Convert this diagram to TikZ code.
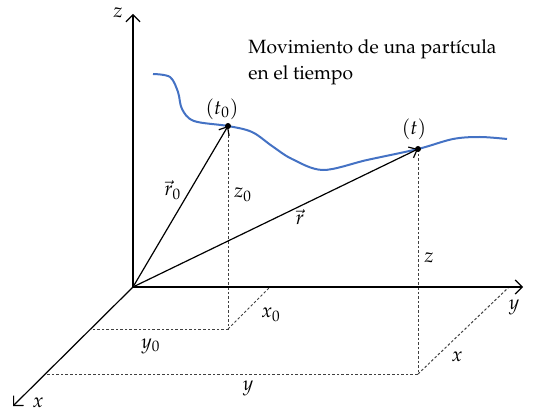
\documentclass[tikz,border=0pt]{standalone}
\usepackage[T1]{fontenc}
\usepackage{mathpazo}
\usetikzlibrary{arrows.meta}
\definecolor{curveblue}{RGB}{68,114,196}
\tikzset{
  axis/.style={line width=0.6pt,-{Straight Barb[length=3.5pt,width=7pt,line width=0.6pt]}},
  vecline/.style={line width=0.6pt,-{Straight Barb[length=3.5pt,width=6pt,line width=0.6pt]}},
  guide/.style={line width=0.5pt,black!75,dash pattern=on 1.3pt off 1pt},
  lbl/.style={inner sep=0pt,font=\fontsize{10}{12}\selectfont},
  pt/.style={circle,fill=black,inner sep=0pt,minimum size=3pt}
}
\begin{document}
\begin{tikzpicture}[x=0.5pt,y=-0.5pt]
\useasboundingbox (0,0) rectangle (534,411);
% key points
\coordinate (O) at (133,287);
\coordinate (Zt) at (133,14);
\coordinate (Yt) at (523,287);
\coordinate (Xt) at (13,406);
\coordinate (P0) at (228,126);
\coordinate (P) at (418,149);
\coordinate (A0) at (228,329);
\coordinate (B0) at (91,329);
\coordinate (C0) at (270,287);
\coordinate (A) at (418,374);
\coordinate (B) at (46,374);
\coordinate (C) at (509,287);
% guides
\draw[guide] (P0) -- (A0) -- (B0);
\draw[guide] (A0) -- (C0);
\draw[guide] (P) -- (A) -- (B);
\draw[guide] (A) -- (C);
% axes
\draw[axis] (O) -- (Zt);
\draw[axis] (O) -- (Yt);
\draw[axis] (O) -- (Xt);
% trajectory
\draw[curveblue,line width=1pt] plot[smooth,tension=0.55] coordinates {
 (153,74) (170,77) (178,92) (182,109) (194,121) (228,126) (252,132) (272,146) (292,159) (323,170) (367,160) (418,149) (453,139) (480,137) (507,139)};
% vectors
\draw[vecline] (O) -- (P0);
\draw[vecline] (O) -- (P);
\node[pt] (p0) at (P0) {};
\node[pt] (p) at (P) {};
% labels
\node[lbl] (lz) at (118,13) {$z$};
\node[lbl] (ly) at (514,307) {$y$};
\node[lbl] (lx) at (38,403) {$x$};
\node[lbl] (lt0) at (222,109) {$(t_0)$};
\node[lbl] (lt) at (414,129) {$(t)$};
\node[lbl] (lr0) at (173,190) {$\vec r_0$};
\node[lbl] (lz0) at (243,195) {$z_0$};
\node[lbl] (lr) at (300,217) {$\vec r$};
\node[lbl] (lz1) at (429,258) {$z$};
\node[lbl] (lx0) at (271,315) {$x_0$};
\node[lbl] (ly0) at (151,346) {$y_0$};
\node[lbl] (lx1) at (457,357) {$x$};
\node[lbl] (ly1) at (248,388) {$y$};
\node[lbl,anchor=base west,align=left,font=\fontsize{9.6}{13}\selectfont] (title) at (248,80) {Movimiento de una part\'{\i}cula\\en el tiempo};
\end{tikzpicture}
\end{document}
